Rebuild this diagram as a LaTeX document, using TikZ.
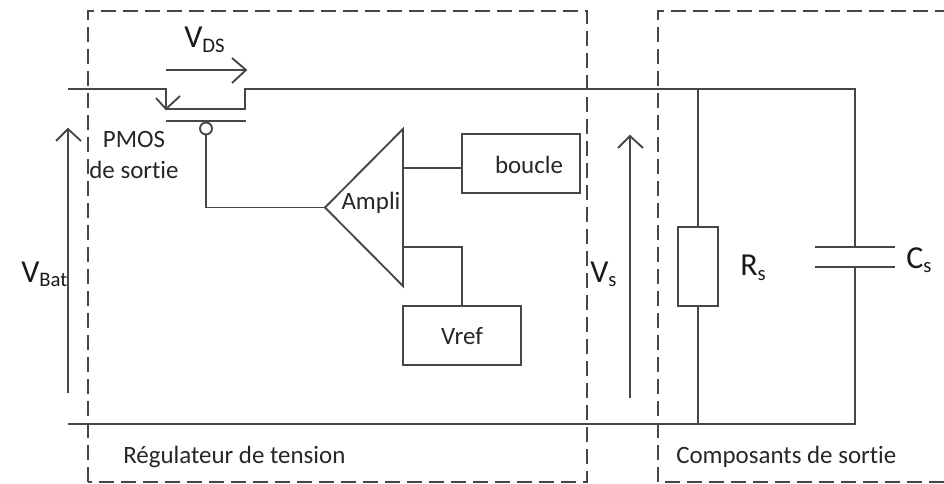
\documentclass[tikz,border=0pt]{standalone}
\usepackage{fontspec}
\setmainfont{Carlito}[Ligatures=NoCommon]
\definecolor{ln}{RGB}{70,70,70}
\tikzset{
  x=0.75pt,y=-0.75pt,
  wire/.style={draw=ln,line width=1.4pt},
  dashbox/.style={draw=ln,line width=1pt,dash pattern=on 11pt off 5.5pt},
  blockbox/.style={wire,fill=none,inner sep=0pt},
  head/.style={wire,line join=miter},
  lab/.style={inner sep=0pt,text=black!85,font=\fontsize{18.7pt}{20pt}\selectfont,anchor=west},
  biglab/.style={inner sep=0pt,text=black!90,font=\fontsize{24pt}{26pt}\selectfont,anchor=base west}
}
\newcommand{\subs}[1]{\raisebox{-3.5pt}{\fontsize{15.5pt}{17pt}\selectfont #1}}
\begin{document}
\begin{tikzpicture}
\useasboundingbox (0,0) rectangle (944,484);
% dashed regions
\draw[dashbox] (88,482) -- (88,11) -- (587,11) -- (587,482) -- (88,482);
\draw[dashbox] (944,482) -- (658,482) -- (658,11) -- (944,11);
% named points
\coordinate (inT) at (68,89);
\coordinate (src) at (166,109);
\coordinate (drn) at (245,109);
\coordinate (jT) at (698,89);
\coordinate (cT) at (855,89);
\coordinate (cU) at (855,247);
\coordinate (cL) at (855,267);
\coordinate (cB) at (855,424);
\coordinate (jB) at (698,424);
\coordinate (inB) at (68,424);
% blocks
\node[blockbox,minimum width=88.5pt,minimum height=44.5pt] (boucle) at (521,163.5) {};
\node[blockbox,minimum width=88.5pt,minimum height=44.5pt] (vref) at (462,335.5) {};
\node[blockbox,minimum width=30pt,minimum height=59.5pt] (rs) at (698,266.5) {};
\coordinate (apex) at (325,207.5);
\coordinate (ampT) at (403,129);
\coordinate (ampB) at (403,286);
\draw[wire,line join=miter] (apex) -- (ampT) -- (ampB) -- cycle;
% wires
\draw[wire] (inT) -- (166,89) -- (src) -- (drn) -- (245,89) -- (cT) -- (cU);
\draw[wire] (cL) -- (cB) -- (inB);
\draw[wire] (jT) -- (rs.north);
\draw[wire] (rs.south) -- (jB);
\draw[wire] (815,247) -- (895,247);
\draw[wire] (815,267) -- (895,267);
\draw[wire] (166,121) -- (246,121);
\node[circle,wire,minimum size=9pt,inner sep=0pt] (gate) at (206,128.5) {};
\draw[wire] (gate.south) |- (apex);
\draw[wire] (403,168) -- (boucle.west |- 403,168);
\draw[wire] (403,247) -- (462,247) -- (vref.north);
% arrows
\draw[head] (156,98) -- (src) -- (180,96);
\draw[wire] (166,70) -- (246,70);
\draw[head] (232,58) -- (246,70) -- (232,83);
\draw[wire] (68,393) -- (68,129);
\draw[head] (56,141) -- (68,129) -- (81,141);
\draw[wire] (630,398) -- (630,136);
\draw[head] (618,148) -- (630,136) -- (643,148);
% labels
\node[biglab] (vds) at (184,48) {V\subs{DS}};
\node[biglab] (vbat) at (21,282) {V\subs{Bat}};
\node[biglab] (vs) at (590,282) {V\subs{s}};
\node[biglab] (rl) at (740,276) {R\subs{s}};
\node[biglab] (cl) at (906,268) {C\subs{s}};
\node[lab,anchor=center] (pmos) at (134,139) {PMOS};
\node[lab,anchor=center] (sortie) at (134,170) {de sortie};
\node[lab,anchor=center] (ampli) at (371,203) {Ampli};
\node[lab,anchor=center] (bt) at (529,165) {boucle};
\node[lab,anchor=center] (vt) at (462,336) {Vref};
\node[lab] (reg) at (123,457) {Régulateur de tension};
\node[lab] (comp) at (676,457) {Composants de sortie};
\end{tikzpicture}
\end{document}
